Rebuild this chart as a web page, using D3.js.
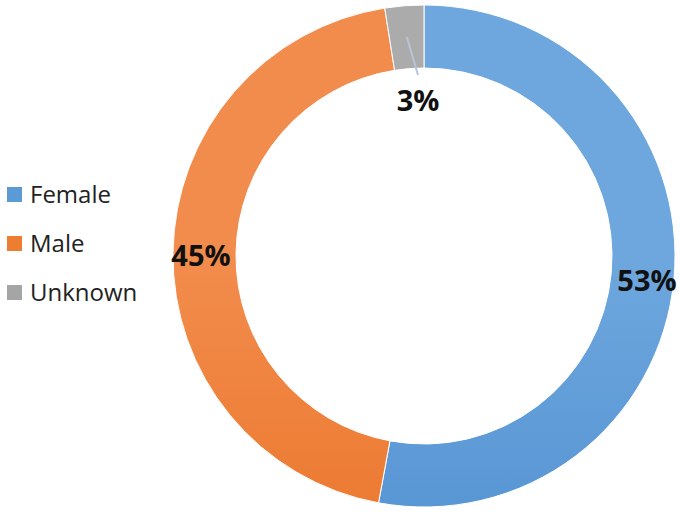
<!DOCTYPE html>
<html lang="en">
<head>
  <meta charset="utf-8">
  <title>Gender donut</title>
  <script src="https://d3js.org/d3.v7.min.js"></script>
  <style>
    body { margin: 0; background: #fff; }
    text { font-family: "Open Sans", "Liberation Sans", sans-serif; }
  </style>
</head>
<body>
  <svg width="680" height="512"></svg>
  <script>
    const categories = ["Female", "Male", "Unknown"];
    const shares = [52.9, 44.6, 2.5];
    const labels = ["53%", "45%", "3%"];
    const swatch = ["#5b9bd5", "#ed7d31", "#a5a5a5"];
    const gradTop = ["#6ea7de", "#f28c4c", "#ababab"];
    const gradBottom = ["#4285ca", "#e66918", "#969696"];

    const svg = d3.select("svg");
    const cx = 424, cy = 256, rOuter = 251, rInner = 188;

    const defs = svg.append("defs");
    categories.forEach((c, i) => {
      const g = defs.append("linearGradient")
        .attr("id", "g" + i)
        .attr("gradientUnits", "userSpaceOnUse")
        .attr("x1", 0).attr("x2", 0)
        .attr("y1", cy - rOuter).attr("y2", cy + rOuter);
      g.append("stop").attr("offset", "0%").attr("stop-color", gradTop[i]);
      g.append("stop").attr("offset", "100%").attr("stop-color", gradBottom[i]);
    });

    const pie = d3.pie().sort(null).value(d => d)(shares);
    const arc = d3.arc().innerRadius(rInner).outerRadius(rOuter);

    const ring = svg.append("g").attr("transform", `translate(${cx},${cy})`);
    ring.selectAll("path")
      .data(pie)
      .join("path")
      .attr("d", arc)
      .attr("fill", (d, i) => `url(#g${i})`)
      .attr("stroke", "#fff")
      .attr("stroke-width", 1);

    // label positions, relative to the centre
    const labelPos = [[223, 25], [-223, 0], [-6, -155]];
    ring.selectAll("text.lbl")
      .data(pie)
      .join("text")
      .attr("class", "lbl")
      .attr("x", (d, i) => labelPos[i][0])
      .attr("y", (d, i) => labelPos[i][1])
      .attr("dy", "0.35em")
      .attr("text-anchor", "middle")
      .attr("font-size", 29)
      .attr("font-weight", "bold")
      .attr("fill", "#111")
      .text((d, i) => labels[i]);

    // leader line for the small slice
    const small = pie[2];
    const mid = (small.startAngle + small.endAngle) / 2;
    const rStart = 220;
    ring.append("line")
      .attr("x1", rStart * Math.sin(mid))
      .attr("y1", -rStart * Math.cos(mid))
      .attr("x2", -6)
      .attr("y2", -181)
      .attr("stroke", "#b7c4d6")
      .attr("stroke-width", 2);

    // legend
    const legend = svg.append("g").attr("transform", "translate(7,187)");
    const item = legend.selectAll("g")
      .data(categories)
      .join("g")
      .attr("transform", (d, i) => `translate(0,${i * 49})`);
    item.append("rect")
      .attr("width", 15).attr("height", 15)
      .attr("fill", (d, i) => swatch[i]);
    item.append("text")
      .attr("x", 23).attr("y", 8)
      .attr("dy", "0.35em")
      .attr("font-size", 24)
      .attr("fill", "#222")
      .text(d => d);
  </script>
</body>
</html>
